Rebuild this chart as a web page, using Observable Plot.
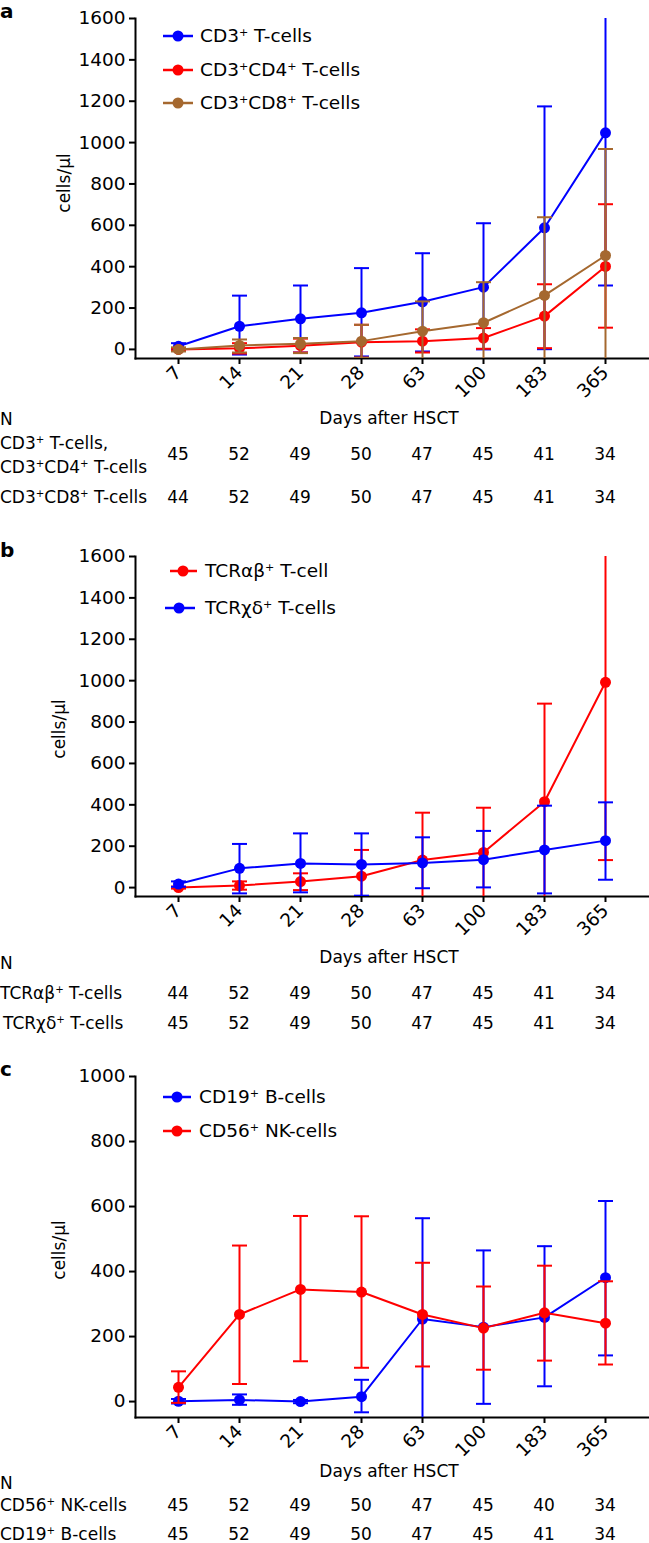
<!DOCTYPE html>
<html>
<head>
<meta charset="utf-8">
<script src="https://cdn.jsdelivr.net/npm/d3@7"></script>
<script src="https://cdn.jsdelivr.net/npm/@observablehq/plot@0.6"></script>
<style>
  html, body { margin: 0; padding: 0; background: #fff; }
  #root { position: relative; width: 649px; height: 1543px; font-family: "DejaVu Sans", sans-serif; color: #000; overflow: hidden; }
  .abs { position: absolute; white-space: nowrap; line-height: 1.2; }
  .panel { position: absolute; left: 0; }
  sup { font-size: 0.6em; vertical-align: 0; position: relative; top: -0.55em; }
  .lbl { font-weight: bold; }
</style>
</head>
<body>
<div id="root"></div>
<script>
// ---------- data ----------
const days = ["7", "14", "21", "28", "63", "100", "183", "365"];

// Panel a
const cd3Mean = [15, 112, 148, 177, 230, 301, 588, 1047];
const cd3Lo   = [0, -25, -15, -34, -10, 0, 1, 309];
const cd3Hi   = [30, 260, 309, 393, 465, 610, 1175, 1785];
const cd4Mean = [0, 5, 18, 35, 40, 55, 161, 401];
const cd4Lo   = [-5, -20, -15, -40, -15, 3, 6, 105];
const cd4Hi   = [5, 30, 52, 119, 97, 103, 315, 702];
const cd8Mean = [0, 19, 27, 40, 88, 129, 261, 454];
const cd8Lo   = [-10, -15, -18, -40, -56, -67, -117, -61];
const cd8Hi   = [10, 48, 55, 119, 232, 325, 639, 969];
const nA1 = [45, 52, 49, 50, 47, 45, 41, 34];
const nA2 = [44, 52, 49, 50, 47, 45, 41, 34];

// Panel b
const abMean = [0, 10, 29, 55, 133, 170, 415, 992];
const abLo   = [-5, -10, -12, -72, -96, -46, -59, 133];
const abHi   = [5, 30, 69, 182, 362, 386, 889, 1850];
const gdMean = [17, 93, 117, 112, 119, 135, 182, 227];
const gdLo   = [4, -28, -23, -39, -3, 1, -28, 38];
const gdHi   = [30, 211, 262, 262, 243, 274, 396, 412];
const nB1 = [44, 52, 49, 50, 47, 45, 41, 34];
const nB2 = [45, 52, 49, 50, 47, 45, 41, 34];

// Panel c
const cd19Mean = [1, 5, 0, 15, 254, 229, 259, 381];
const cd19Lo   = [-6, -10, -5, -33, -56, -7, 47, 142];
const cd19Hi   = [8, 22, 5, 67, 564, 465, 478, 617];
const cd56Mean = [44, 268, 345, 337, 268, 226, 273, 241];
const cd56Lo   = [-4, 54, 124, 104, 108, 98, 126, 114];
const cd56Hi   = [93, 480, 571, 570, 427, 354, 418, 370];
const nC1 = [45, 52, 49, 50, 47, 45, 40, 34];
const nC2 = [45, 52, 49, 50, 47, 45, 41, 34];

const yTicksA = [0, 200, 400, 600, 800, 1000, 1200, 1400, 1600];
const yTicksC = [0, 200, 400, 600, 800, 1000];

const BLUE = "#0000ff", RED = "#ff0000", BROWN = "#a5682f";
const FONT = "DejaVu Sans, sans-serif";
const TICK_FONT = 18.5;

// ---------- helpers ----------
const root = document.getElementById("root");
const capSymbol = {draw(ctx) { ctx.moveTo(-7.5, 0); ctx.lineTo(7.5, 0); }};
function rows(mean, lo, hi) {
  return days.map((d, i) => ({day: d, mean: mean[i], lo: lo[i], hi: hi[i]}));
}
function seriesMarks(data, color) {
  return [
    Plot.ruleX(data, {x: "day", y1: "lo", y2: "hi", stroke: color, strokeWidth: 2, clip: true}),
    Plot.dot(data, {x: "day", y: "hi", symbol: capSymbol, stroke: color, fill: "none", strokeWidth: 2, clip: true}),
    Plot.dot(data, {x: "day", y: "lo", symbol: capSymbol, stroke: color, fill: "none", strokeWidth: 2, clip: true}),
    Plot.line(data, {x: "day", y: "mean", stroke: color, strokeWidth: 2}),
    Plot.dot(data, {x: "day", y: "mean", fill: color, r: 5.5})
  ];
}
function text(x, yc, html, opts = {}) {
  const el = document.createElement("div");
  el.className = "abs" + (opts.cls ? " " + opts.cls : "");
  el.innerHTML = html;
  el.style.left = x + "px";
  el.style.top = yc + "px";
  el.style.fontSize = (opts.size || 17) + "px";
  const tx = opts.anchor === "middle" ? "-50%" : opts.anchor === "end" ? "-100%" : "0";
  el.style.transform = `translate(${tx}, -50%)` + (opts.rotate ? ` rotate(${opts.rotate}deg)` : "");
  root.appendChild(el);
  return el;
}
function legendItem(x1, x2, cx, yc, color, tx, html) {
  const ns = "http://www.w3.org/2000/svg";
  const svg = document.createElementNS(ns, "svg");
  svg.setAttribute("width", 40); svg.setAttribute("height", 14);
  svg.style.position = "absolute";
  svg.style.left = (x1 - 2) + "px"; svg.style.top = (yc - 7) + "px";
  const ln = document.createElementNS(ns, "line");
  ln.setAttribute("x1", 2); ln.setAttribute("x2", x2 - x1 + 2);
  ln.setAttribute("y1", 7); ln.setAttribute("y2", 7);
  ln.setAttribute("stroke", color); ln.setAttribute("stroke-width", 2.5);
  const c = document.createElementNS(ns, "circle");
  c.setAttribute("cx", cx - x1 + 2); c.setAttribute("cy", 7); c.setAttribute("r", 5.5);
  c.setAttribute("fill", color);
  svg.appendChild(ln); svg.appendChild(c);
  root.appendChild(svg);
  text(tx, yc, html, {size: 18.5});
}
function panel({top, marginTop, height, marginBottom, yDomain, yTicks, series}) {
  const plot = Plot.plot({
    width: 649, height,
    marginLeft: 135, marginRight: 1, marginTop, marginBottom,
    style: {fontFamily: FONT, fontSize: TICK_FONT + "px", color: "#000", background: "transparent", overflow: "visible"},
    x: {type: "point", domain: days, padding: 0.67},
    y: {domain: yDomain},
    marks: [
      Plot.axisY({ticks: yTicks, tickFormat: d => String(d), tickSize: 6, tickPadding: 4, strokeWidth: 2, label: null, fontSize: TICK_FONT}),
      Plot.axisX({tickSize: 6, tickPadding: 5, tickRotate: -45, strokeWidth: 2, label: null, fontSize: TICK_FONT}),
      Plot.frame({anchor: "left", strokeWidth: 2}),
      Plot.frame({anchor: "bottom", strokeWidth: 2}),
      ...series.flatMap(([data, color]) => seriesMarks(data, color))
    ]
  });
  const wrap = document.createElement("div");
  wrap.className = "panel";
  wrap.style.top = top + "px";
  wrap.appendChild(plot);
  root.appendChild(wrap);
  return plot;
}
function numberRow(plot, values, yc) {
  const xs = plot.scale("x");
  days.forEach((d, i) => text(xs.apply(d), yc, String(values[i]), {anchor: "middle", size: 17}));
}

// ---------- panel a ----------
const pa = panel({
  top: 0, marginTop: 18, height: 400, marginBottom: 42,
  yDomain: [-44, 1600], yTicks: yTicksA,
  series: [[rows(cd3Mean, cd3Lo, cd3Hi), BLUE], [rows(cd4Mean, cd4Lo, cd4Hi), RED], [rows(cd8Mean, cd8Lo, cd8Hi), BROWN]]
});
text(0, 11, "a", {cls: "lbl", size: 20});
text(64, 183, "cells/μl", {anchor: "middle", rotate: -90, size: 17});
legendItem(163, 193, 178, 36, BLUE, 200, "CD3<sup>+</sup> T-cells");
legendItem(163, 193, 178, 70, RED, 200, "CD3<sup>+</sup>CD4<sup>+</sup> T-cells");
legendItem(163, 193, 178, 103, BROWN, 200, "CD3<sup>+</sup>CD8<sup>+</sup> T-cells");
text(389, 418, "Days after HSCT", {anchor: "middle"});
text(0, 419, "N");
text(0, 443, "CD3<sup>+</sup> T-cells,");
text(0, 467, "CD3<sup>+</sup>CD4<sup>+</sup> T-cells");
numberRow(pa, nA1, 454);
text(0, 497, "CD3<sup>+</sup>CD8<sup>+</sup> T-cells");
numberRow(pa, nA2, 497);

// ---------- panel b ----------
const pb = panel({
  top: 538, marginTop: 18, height: 400, marginBottom: 42,
  yDomain: [-43, 1600], yTicks: yTicksA,
  series: [[rows(abMean, abLo, abHi), RED], [rows(gdMean, gdLo, gdHi), BLUE]]
});
text(0, 550, "b", {cls: "lbl", size: 20});
text(59, 729, "cells/μl", {anchor: "middle", rotate: -90, size: 17});
legendItem(170, 197, 183, 571, RED, 205, "TCRαβ<sup>+</sup> T-cell");
legendItem(165, 195, 179, 608, BLUE, 205, "TCRχδ<sup>+</sup> T-cells");
text(389, 957, "Days after HSCT", {anchor: "middle"});
text(0, 963, "N");
text(0, 993, "TCRαβ<sup>+</sup> T-cells");
numberRow(pb, nB1, 993);
text(3, 1023, "TCRχδ<sup>+</sup> T-cells");
numberRow(pb, nB2, 1023);

// ---------- panel c ----------
const pc = panel({
  top: 1058, marginTop: 18, height: 400, marginBottom: 41,
  yDomain: [-49, 1000], yTicks: yTicksC,
  series: [[rows(cd19Mean, cd19Lo, cd19Hi), BLUE], [rows(cd56Mean, cd56Lo, cd56Hi), RED]]
});
text(0, 1069, "c", {cls: "lbl", size: 20});
text(59, 1250, "cells/μl", {anchor: "middle", rotate: -90, size: 17});
legendItem(163, 191, 177, 1097, BLUE, 199, "CD19<sup>+</sup> B-cells");
legendItem(163, 191, 177, 1131, RED, 199, "CD56<sup>+</sup> NK-cells");
text(389, 1471, "Days after HSCT", {anchor: "middle"});
text(0, 1483, "N");
text(0, 1505, "CD56<sup>+</sup> NK-cells");
numberRow(pc, nC1, 1505);
text(0, 1534, "CD19<sup>+</sup> B-cells");
numberRow(pc, nC2, 1534);
</script>
</body>
</html>
